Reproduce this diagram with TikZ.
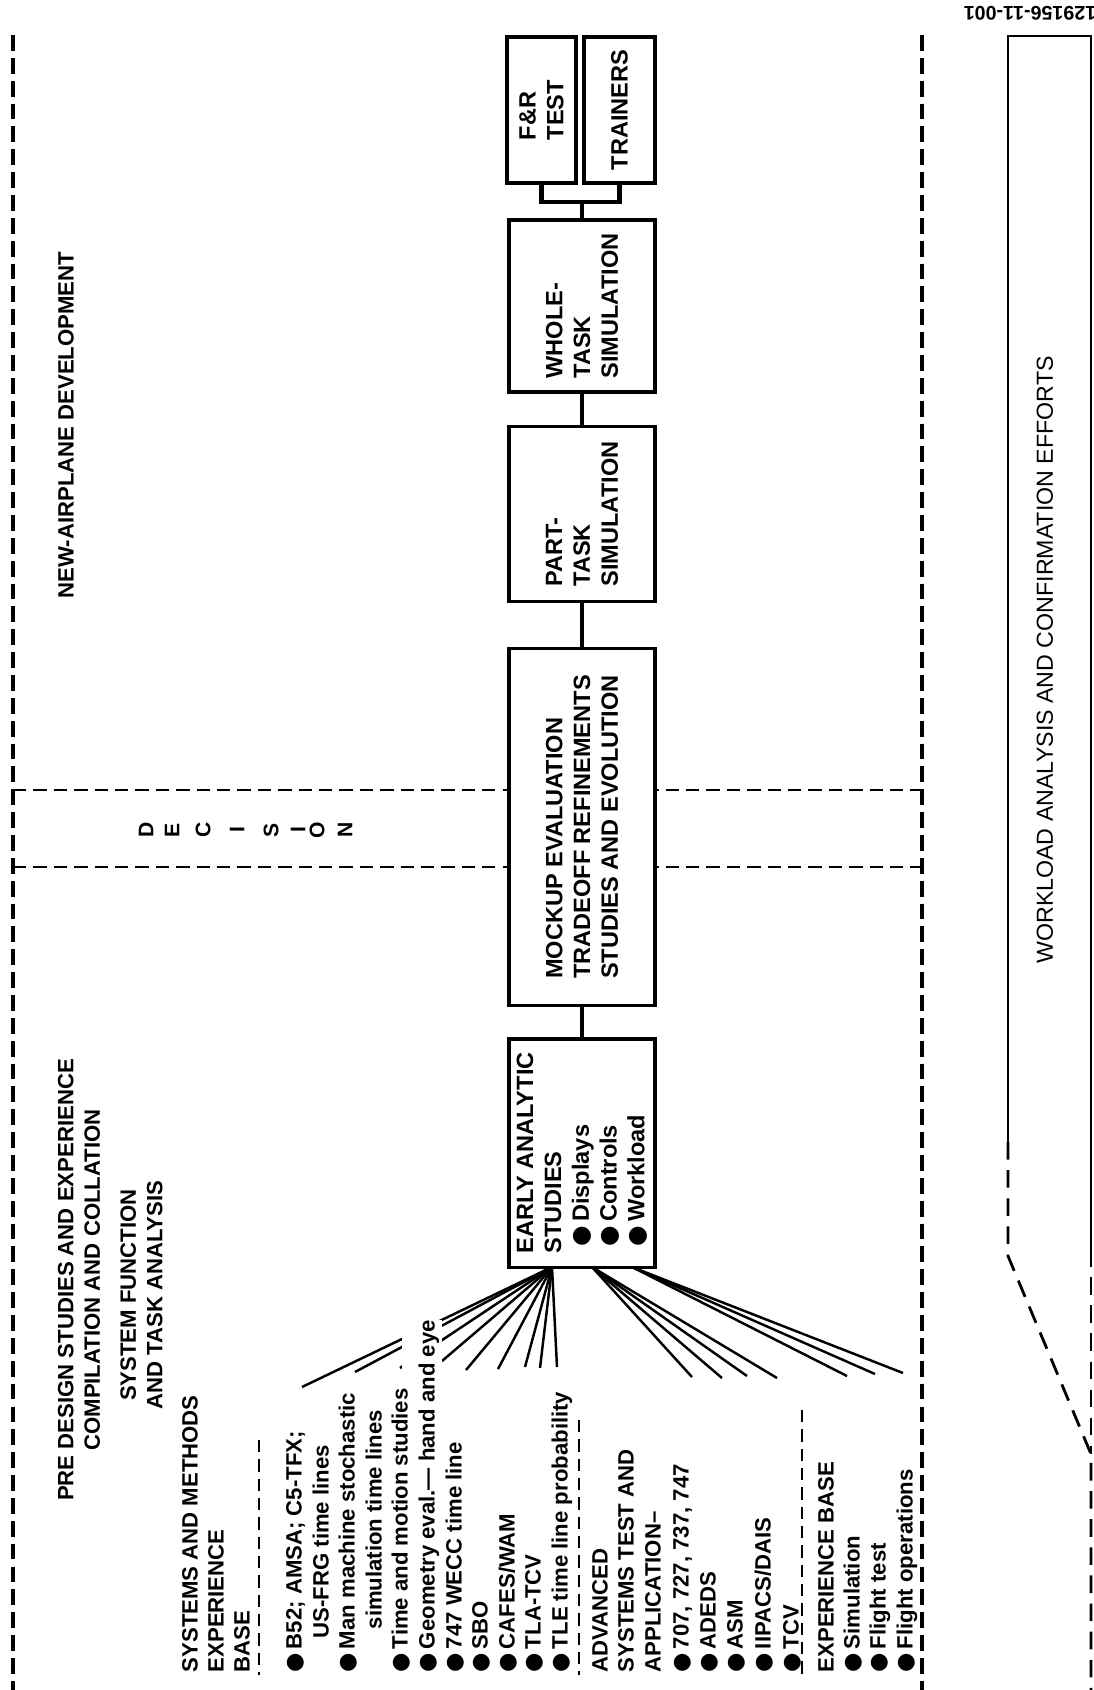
\documentclass[tikz,border=0pt]{standalone}
\usepackage{fontspec}
\setmainfont{Liberation Sans}
\newfontfamily\symfont{DejaVu Sans}
\newcommand{\bul}{\makebox[1.05em][l]{\symfont\char"25CF}}

\begin{document}
\begin{tikzpicture}[x=0.01cm,y=-0.01cm]
\tikzset{box/.style = {shape=rectangle,draw,line width=0.9pt,fill=white,rotate=90,inner sep=0pt,align=left,font=\bfseries\fontsize{6.7}{7.9}\selectfont}}
\tikzset{txt/.style = {rotate=90,anchor=west,inner sep=0pt,text height=0.72em,text depth=0pt,font=\bfseries\fontsize{6.3}{7.6}\selectfont}}
\tikzset{title/.style = {rotate=90,align=center,inner sep=0pt,font=\bfseries\fontsize{6.3}{7.6}\selectfont}}
\tikzset{link/.style = {line width=1.2pt}}
\tikzset{ray/.style = {line width=0.7pt}}
\tikzset{outline/.style = {line width=1pt,dash pattern=on 4.5pt off 2pt}}
\tikzset{band/.style = {line width=0.7pt,dash pattern=on 3.8pt off 2pt}}
\tikzset{sep/.style = {line width=0.75pt,dash pattern=on 3.5pt off 2pt}}
\useasboundingbox (0,0) rectangle (1094,1690);

% frame and decision band
\draw[outline] (13,35) -- (13,1690);
\draw[outline] (922,35) -- (922,1690);
\draw[band] (13,790) -- (922,790);
\draw[band] (13,867) -- (922,867);
\foreach \c/\x [count=\i] in {D/146,E/172,C/203,I/237,S/271,I/298,O/317,N/345}
  \node[rotate=90,font=\bfseries\fontsize{6}{7}\selectfont] (dec\i) at (\x,830) {\c};

\node[title] (nad) at (66,425) {NEW-AIRPLANE DEVELOPMENT};
\node[title] (pre) at (79,1280) {PRE DESIGN STUDIES AND EXPERIENCE\\COMPILATION AND COLLATION};
\node[title] (sfta) at (141.5,1295) {SYSTEM FUNCTION\\AND TASK ANALYSIS};

% fans out of the early studies box
\coordinate (hubA) at (552,1267);
\coordinate (hubB) at (592,1267);
\coordinate (hubC) at (632,1267);
\foreach \x/\y [count=\i] in {302/1387,355/1372,400/1368,442/1361,466/1370,498/1369,525/1367,540/1368,557/1367}
  {\coordinate (a\i) at (\x,\y); \draw[ray] (hubA) -- (a\i);}
\foreach \x/\y [count=\i] in {692/1377,722/1378,747/1376,777/1378}
  {\coordinate (b\i) at (\x,\y); \draw[ray] (hubB) -- (b\i);}
\foreach \x/\y [count=\i] in {847/1376,875/1374,903/1373}
  {\coordinate (e\i) at (\x,\y); \draw[ray] (hubC) -- (e\i);}

% experience base column
\node[txt,fill=white,inner ysep=2pt] (geo) at (422,1673) {\bul Geometry eval.--- hand and eye};
\foreach \x/\t [count=\i] in {185/SYSTEMS AND METHODS,211/EXPERIENCE,237/BASE,595/ADVANCED,
    621/SYSTEMS TEST AND,648/APPLICATION--,821/EXPERIENCE BASE}
  \node[txt] (h\i) at (\x,1673) {\t};
\foreach \x/\t [count=\i] in {289/{B52; AMSA; C5-TFX;},342/Man machine stochastic,395/Time and motion studies,
    449/747 WECC time line,475/SBO,502/{CAFES/WAM},528/TLA-TCV,
    555/TLE time line probability,676/{707, 727, 737, 747},703/ADEDS,730/ASM,758/{IIPACS/DAIS},786/TCV,
    847/Simulation,873/Flight test,900/Flight operations}
  \node[txt] (i\i) at (\x,1673) {\bul\t};
\node[txt] (c1) at (316,1639) {US-FRG time lines};
\node[txt] (c2) at (369,1630) {simulation time lines};
\draw[sep] (259,1440) -- (259,1675);
\draw[sep] (579,1420) -- (579,1675);
\draw[sep] (802,1410) -- (802,1675);

% boxes
\node[box,minimum width=14.6mm,minimum height=6.9mm] (fr) at (541.5,110) {F\&R\\TEST};
\node[box,minimum width=14.6mm,minimum height=7.1mm] (tr) at (619.5,110) {TRAINERS};
\node[box,minimum width=17.2mm,minimum height=14.6mm] (whole) at (582,306) {WHOLE-\\TASK\\SIMULATION};
\node[box,minimum width=17.5mm,minimum height=14.6mm] (part) at (582,514) {PART-\\TASK\\SIMULATION};
\node[box,minimum width=35.6mm,minimum height=14.6mm] (mock) at (582,827) {MOCKUP EVALUATION\\TRADEOFF REFINEMENTS\\STUDIES AND EVOLUTION};
\node[box,minimum width=22.8mm,minimum height=14.6mm] (early) at (582,1153) {EARLY ANALYTIC\\STUDIES\\\hspace{0.3em}\bul Displays\\\hspace{0.3em}\bul Controls\\\hspace{0.3em}\bul Workload};

\coordinate (split) at (582,202);
\draw[link] (early.east) -- (mock.west);
\draw[link] (mock.east) -- (part.west);
\draw[link] (part.east) -- (whole.west);
\draw[link] (whole.east) -- (split);
\draw[link] (fr.west) |- (split) -| (tr.west);

% workload bracket
\draw[line width=0.8pt] (1091,1249) -- (1091,36) -- (1008,36) -- (1008,1142);
\draw[line width=0.8pt,dash pattern=on 5pt off 3pt] (1008,1142) -- (1008,1256) -- (1091,1454) -- (1091,1690);
\draw[line width=0.8pt,dash pattern=on 5pt off 3pt] (1091,1249) -- (1091,1454);
\node[rotate=90,font=\fontsize{6.6}{8}\selectfont] (wl) at (1045,660) {WORKLOAD ANALYSIS AND CONFIRMATION EFFORTS};
\node[rotate=180,anchor=west,inner sep=0pt,font=\bfseries\fontsize{5.6}{6}\selectfont] (fig) at (1097,13) {129156-11-001};
\end{tikzpicture}
\end{document}
